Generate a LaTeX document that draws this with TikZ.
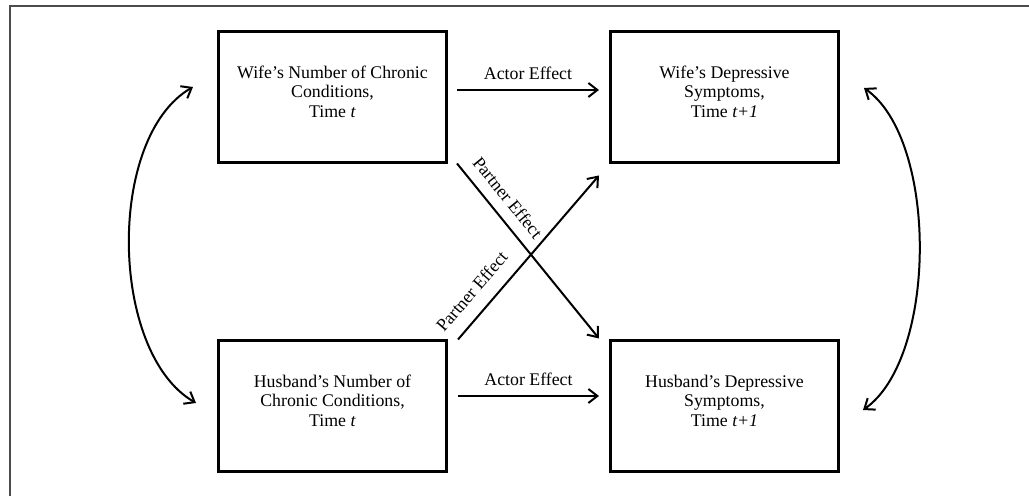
\documentclass[tikz,border=0pt]{standalone}
\usepackage{fontspec}
\setmainfont{Liberation Serif}
\usetikzlibrary{positioning,arrows.meta}

\begin{document}
\begin{tikzpicture}[x=0.5pt, y=0.5pt, node distance=87.5pt and 80.5pt,
	every node/.style={font=\fontsize{8.9}{9.75}\selectfont},
	box/.style={draw, line width=1.5pt, minimum width=114pt, minimum height=65.5pt, align=center, text depth=6pt},
	eff/.style={-{Straight Barb[length=4.5pt,width=7pt]}, line width=1pt},
	corr/.style={{Straight Barb[length=4.5pt,width=7pt]}-{Straight Barb[length=4.5pt,width=7pt]}, line width=1pt}]
	\useasboundingbox (0,0) rectangle (1029,496);
	% frame
	\draw[line width=1pt, black!70] (10,0) |- (1029,490);
	% boxes
	\node[box] (WC) at (332.5,398.5) {Wife’s Number of Chronic\\Conditions,\\Time \textit{t}};
	\node[box, right=of WC] (WD) {Wife’s Depressive\\Symptoms,\\Time \textit{t+1}};
	\node[box, below=of WC] (HC) {Husband’s Number of\\Chronic Conditions,\\Time \textit{t}};
	\node[box, right=of HC] (HD) {Husband’s Depressive\\Symptoms,\\Time \textit{t+1}};
	% actor effects
	\draw[eff] ([shift={(4.5pt,3.75pt)}]WC.east) -- node[above=1.5pt] (ae1) {Actor Effect} ([shift={(-5pt,3.75pt)}]WD.west);
	\draw[eff] ([shift={(5pt,5.25pt)}]HC.east) -- node[above=1.5pt] (ae2) {Actor Effect} ([shift={(-5pt,5.25pt)}]HD.west);
	% partner effects
	\draw[eff] ([shift={(4.5pt,0.5pt)}]WC.south east) -- node[pos=0.26, sloped, above=2pt] (pe1) {Partner Effect} ([shift={(-5pt,0.5pt)}]HD.north west);
	\draw[eff] ([shift={(5pt,0pt)}]HC.north east) -- node[pos=0.21, sloped, above=3.5pt] (pe2) {Partner Effect} ([shift={(-5pt,-5.5pt)}]WD.south west);
	% correlations
	\draw[corr] ([shift={(-12pt,5.25pt)}]WC.west) to[out=210, in=150, looseness=0.81] ([shift={(-10.5pt,1.75pt)}]HC.west);
	\draw[corr] ([shift={(12pt,4.75pt)}]WD.east) to[out=325, in=35, looseness=0.72] ([shift={(11.5pt,-1.75pt)}]HD.east);
\end{tikzpicture}
\end{document}
